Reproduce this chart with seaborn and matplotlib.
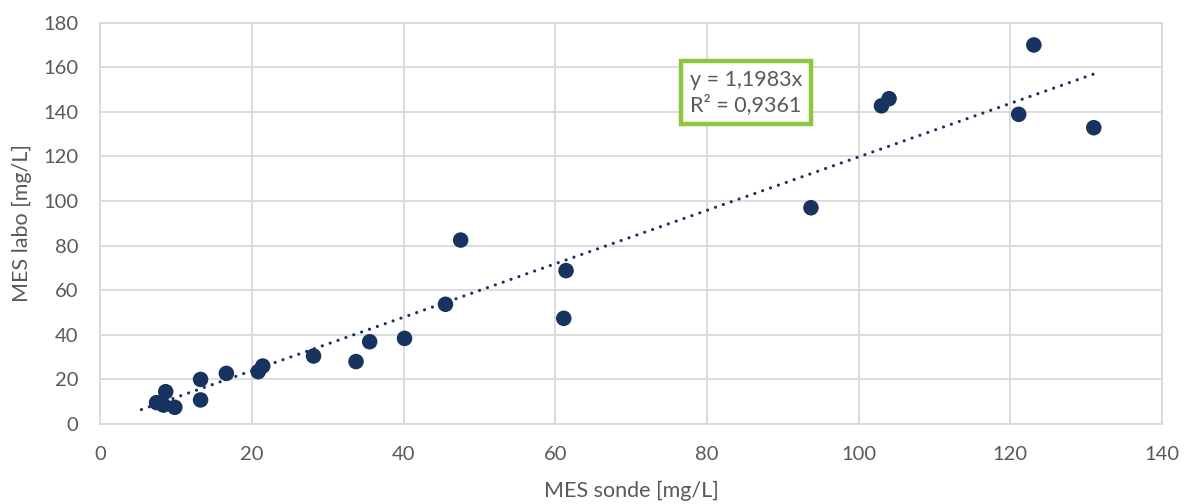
import matplotlib
matplotlib.use("Agg")
import matplotlib.pyplot as plt
import seaborn as sns
import numpy as np
import pandas as pd

# Suspended solids: probe reading vs. laboratory measurement (mg/L)
mes_sonde = [7.4, 8.3, 9.8, 8.6, 13.2, 13.2, 16.6, 20.8, 21.4, 28.1, 33.7,
             35.5, 40.1, 45.5, 47.5, 61.1, 61.4, 93.7, 103.0, 104.0, 121.1,
             123.1, 131.0]
mes_labo = [9.6, 8.5, 7.5, 14.5, 20.0, 10.8, 22.7, 23.5, 26.0, 30.5, 28.0,
            36.9, 38.4, 53.7, 82.5, 47.4, 68.8, 97.0, 142.7, 145.9, 138.9,
            170.0, 132.9]

# Linear trend forced through the origin
slope = 1.1983
r_squared = 0.9361
trend_span = [5.4, 131.0]

x_ticks = [0, 20, 40, 60, 80, 100, 120, 140]
y_ticks = [0, 20, 40, 60, 80, 100, 120, 140, 160, 180]

navy = "#17335F"
grey_text = "#595959"
grid_grey = "#D9D9D9"

sns.set_theme(style="white")
plt.rcParams["font.family"] = ["Lato", "DejaVu Sans"]

fig = plt.figure(figsize=(11.85, 5.04), dpi=100)
ax = fig.add_axes([0.0848, 0.1587, 0.8958, 0.7963])

df = pd.DataFrame({"sonde": mes_sonde, "labo": mes_labo})
sns.scatterplot(data=df, x="sonde", y="labo", ax=ax, s=125, color=navy,
                edgecolor="none", linewidth=0, zorder=3)

tx = np.array(trend_span)
ax.plot(tx, slope * tx, color=navy, lw=2.3, linestyle=(0, (0.01, 2.6)),
        dash_capstyle="round", zorder=2)

ax.set_xlim(0, 140)
ax.set_ylim(0, 180)
ax.set_xticks(x_ticks)
ax.set_yticks(y_ticks)
ax.grid(True, color=grid_grey, lw=1.3)
ax.set_axisbelow(True)
for sp in ax.spines.values():
    sp.set_color(grid_grey)
    sp.set_linewidth(1.3)

ax.tick_params(axis="both", length=0, labelsize=14.5, colors=grey_text)
ax.tick_params(axis="x", pad=16)
ax.tick_params(axis="y", pad=16)
ax.set_xlabel("MES sonde [mg/L]", fontsize=15.5, color=grey_text, labelpad=13)
ax.set_ylabel("MES labo [mg/L]", fontsize=15.5, color=grey_text, labelpad=8)

label = ("y = " + f"{slope:.4f}".replace(".", ",") + "x\n"
         + "R² = " + f"{r_squared:.4f}".replace(".", ","))
ax.text(0.555, 0.826, label, transform=ax.transAxes, ha="left", va="center",
        fontsize=15.5, color=grey_text, linespacing=1.3, zorder=5,
        bbox=dict(boxstyle="square,pad=0.4", fc="white", ec="#8DC63F", lw=3.2))

fig.savefig("out.png", dpi=100)
